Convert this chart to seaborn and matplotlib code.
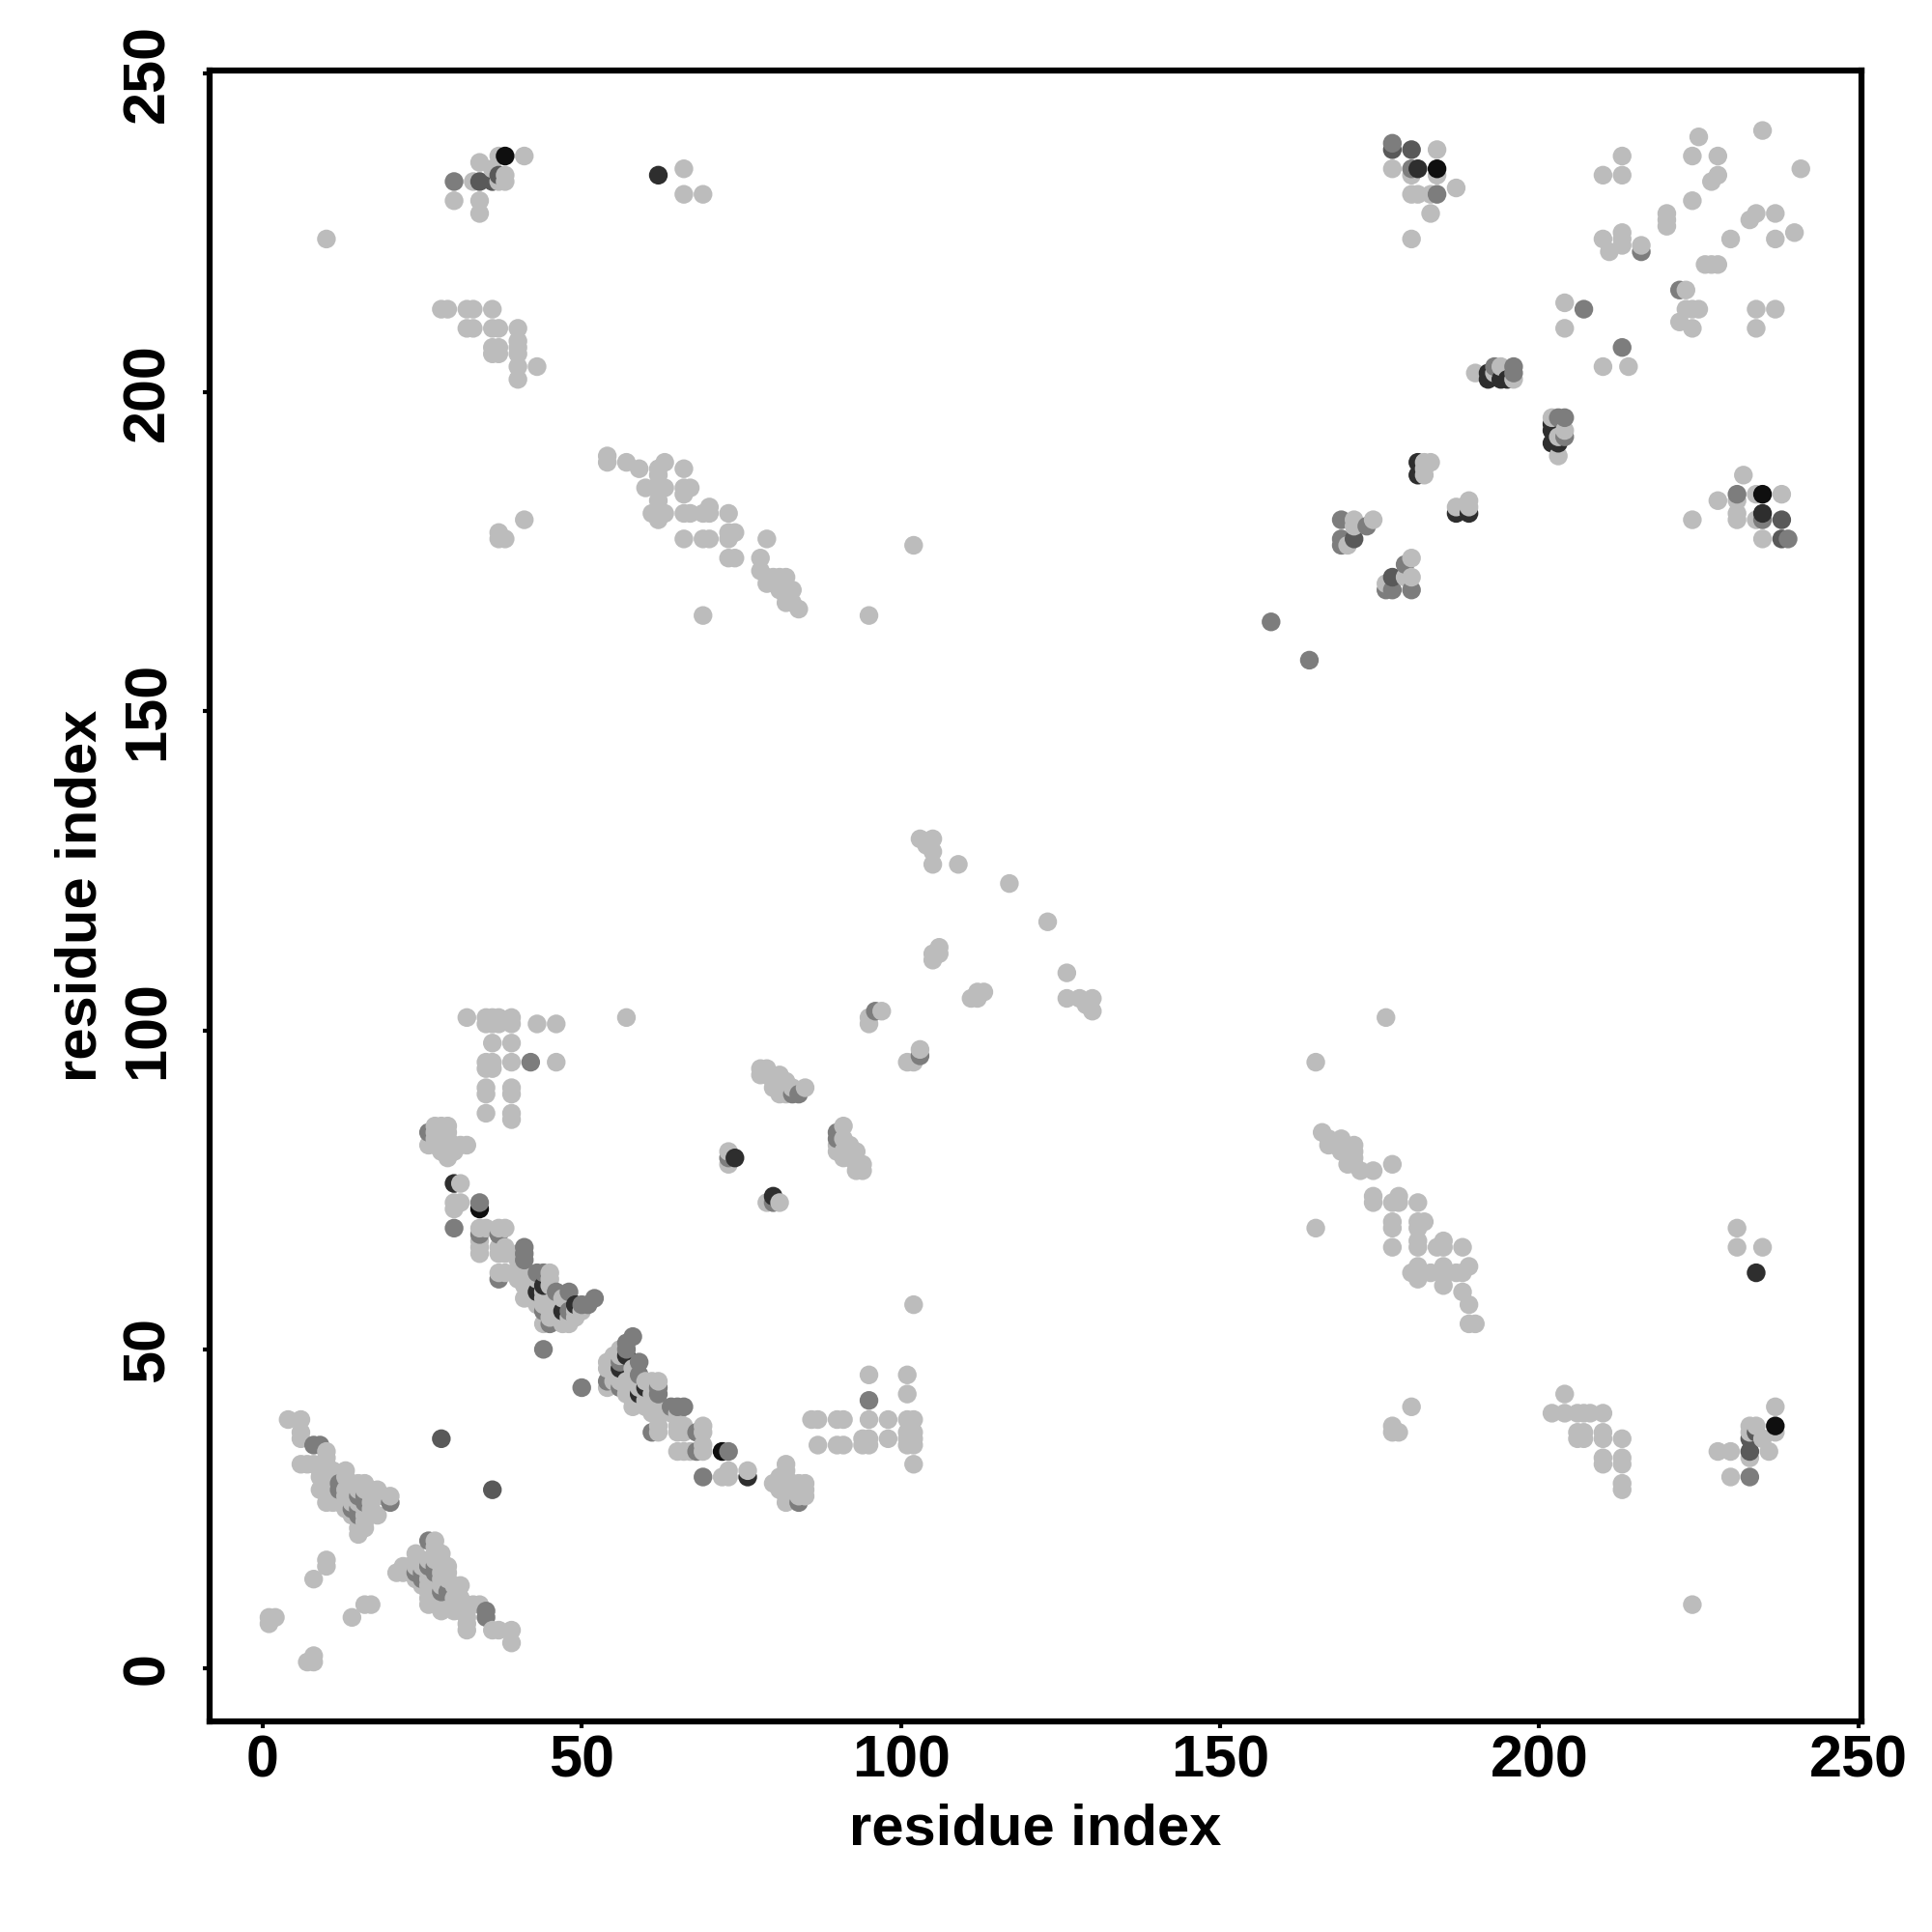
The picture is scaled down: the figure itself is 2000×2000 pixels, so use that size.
import matplotlib
matplotlib.use('Agg')
import matplotlib.pyplot as plt
import pandas as pd
import seaborn as sns

# contact pairs (i < j), grouped by grey level; the map is symmetric
light_pairs = [
    (1, 7), (1, 8), (2, 8), (8, 14), (10, 16), (10, 17),
    (4, 39), (6, 39), (6, 37), (6, 36), (6, 32), (7, 32), (8, 32), (9, 28), (9, 30), (9, 31),
    (10, 34), (10, 33), (10, 32), (10, 31), (10, 30), (10, 28), (10, 26),
    (11, 31), (11, 30), (11, 27), (11, 26), (12, 27), (12, 26),
    (13, 31), (13, 30), (13, 28), (13, 27), (13, 26), (13, 25), (14, 29), (14, 28), (14, 26), (14, 24),
    (15, 29), (15, 28), (15, 26), (15, 22), (15, 21), (16, 29), (16, 28), (16, 25), (16, 24), (16, 23), (16, 22),
    (17, 28), (17, 27), (17, 26), (17, 25), (18, 28), (18, 27), (18, 24), (19, 27), (20, 27),
    (26, 82), (27, 85), (27, 84), (27, 83), (27, 82), (28, 85), (28, 84), (28, 83), (28, 82), (28, 81),
    (29, 85), (29, 84), (29, 83), (29, 82), (29, 81), (29, 80), (30, 82), (30, 81), (31, 82), (32, 82),
    (31, 76), (30, 73), (30, 72), (31, 73), (34, 69), (34, 67), (34, 66), (34, 65), (35, 69),
    (37, 69), (38, 69), (37, 66), (37, 65), (38, 66), (38, 65), (37, 62), (38, 62),
    (40, 65), (40, 64), (40, 62), (40, 61), (41, 62), (41, 60), (41, 58), (42, 61), (42, 60), (42, 58), (43, 61),
    (43, 57), (44, 59), (44, 58), (44, 57), (44, 54), (45, 62), (45, 61), (45, 60), (45, 57), (45, 56), (45, 55),
    (46, 58), (47, 58), (47, 54), (48, 55), (48, 54), (49, 56), (49, 55), (50, 56),
    (32, 102), (35, 102), (36, 102), (37, 102), (35, 101), (36, 101), (37, 101), (36, 98), (39, 102), (39, 101),
    (39, 98), (35, 95), (36, 95), (35, 94), (36, 94), (39, 95), (35, 91), (35, 90), (35, 87), (39, 91), (39, 90),
    (39, 87), (39, 86), (43, 101), (46, 101), (46, 95), (57, 102),
    (28, 213), (29, 213), (32, 213), (33, 213), (36, 213), (32, 210), (33, 210), (36, 210), (37, 210), (40, 210),
    (36, 207), (37, 207), (36, 206), (37, 206), (40, 208), (40, 207), (40, 206), (40, 204), (40, 202), (43, 204),
    (37, 178), (37, 177), (38, 177), (41, 180),
    (30, 230), (33, 233), (34, 236), (34, 230), (34, 228), (36, 235), (37, 237), (37, 233), (38, 234), (38, 233), (41, 237),
    (10, 224), (66, 235), (66, 231), (69, 231),
    (73, 81), (73, 79), (79, 73), (81, 73),
    (78, 94), (78, 93), (79, 94), (79, 93), (80, 92), (80, 91), (81, 93), (81, 91), (81, 90), (82, 92), (82, 90), (83, 91), (85, 91),
    (95, 102), (95, 101), (97, 103),
    (103, 130), (104, 129), (105, 130), (105, 128), (105, 126), (109, 126), (117, 123),
    (105, 112), (105, 111), (106, 113), (106, 112),
    (54, 190), (54, 189), (57, 189), (59, 188), (60, 185), (62, 188), (62, 187), (63, 189), (62, 185), (63, 185),
    (66, 188), (66, 185), (67, 185), (66, 184), (62, 183), (61, 181), (62, 181), (63, 181), (62, 180), (66, 181),
    (67, 181), (69, 181), (70, 182), (70, 181), (73, 181), (66, 177), (69, 177), (70, 177), (73, 178), (74, 178),
    (73, 177), (73, 174), (74, 174), (79, 177), (78, 174), (78, 172), (79, 171), (79, 170), (80, 171), (81, 171),
    (82, 171), (81, 169), (82, 169), (83, 169), (82, 168), (82, 167), (83, 167), (84, 166),
    (69, 165), (95, 165), (102, 176),
    (170, 176), (171, 180), (171, 179), (174, 180), (180, 224), (180, 234), (180, 231), (181, 231), (177, 235), (183, 231),
    (184, 238), (184, 234), (187, 232), (183, 228), (182, 189), (183, 189), (182, 188), (182, 187), (187, 182), (188, 182),
    (189, 183), (189, 182), (190, 203), (193, 203), (194, 204), (196, 202), (203, 190), (203, 193), (204, 194),
    (204, 214), (204, 210), (210, 234), (213, 237), (213, 234), (210, 224), (213, 225), (213, 224), (213, 223), (211, 222),
    (216, 223), (224, 237), (225, 240), (228, 237), (228, 234), (227, 233), (235, 241),
    (224, 230), (220, 228), (220, 227), (220, 226),
]
mid_pairs = [
    (8, 35), (9, 35), (12, 29), (12, 28), (14, 25), (15, 25), (15, 24), (15, 27), (16, 27), (16, 26), (20, 26),
    (26, 84), (30, 69), (34, 73), (34, 68), (37, 68), (37, 61), (41, 66), (41, 65), (41, 64), (43, 62), (44, 62),
    (44, 56), (45, 54), (46, 59), (48, 59), (48, 56), (50, 57), (51, 57), (52, 58), (44, 50),
    (42, 95), (30, 233), (73, 80), (80, 73), (83, 90), (84, 90), (96, 103),
    (169, 180), (169, 177), (169, 176), (173, 179), (158, 164), (177, 239), (180, 235), (184, 231),
    (193, 204), (196, 204), (196, 203), (207, 213), (216, 222),
]
dark_pairs = [
    (28, 36), (34, 233), (36, 233), (37, 234), (171, 177), (177, 238), (180, 238),
]
very_dark_pairs = [
    (30, 76), (43, 59), (44, 60), (47, 56), (49, 57), (62, 234), (74, 80), (80, 74),
    (181, 235), (181, 189), (181, 187),
    (192, 203), (192, 202), (194, 202), (195, 202),
]
black_pairs = [
    (34, 72), (38, 237), (184, 235),
]

level_colors = {
    'light': '#bcbcbc',
    'mid': '#7d7d7d',
    'dark': '#595959',
    'very dark': '#2e2e2e',
    'black': '#0f0f0f',
}
tick_values = [0, 50, 100, 150, 200, 250]

# Собираем таблицу: каждая пара (i, j) и (j, i)
rows = {}
for level, pairs in [('light', light_pairs), ('mid', mid_pairs), ('dark', dark_pairs),
                     ('very dark', very_dark_pairs), ('black', black_pairs)]:
    for i, j in pairs:
        rows[(i, j)] = level
        rows[(j, i)] = level
df = pd.DataFrame([(x, y, lev) for (x, y), lev in rows.items()], columns=['x', 'y', 'level'])
df = df.sort_values(['x', 'y'])

sns.set_theme(style='ticks')
plt.rcParams['font.family'] = ['Liberation Sans', 'DejaVu Sans']

fig = plt.figure(figsize=(20, 20), dpi=100)
ax = fig.add_axes([0.1085, 0.109, 0.855, 0.8545])
sns.scatterplot(data=df, x='x', y='y', hue='level', palette=level_colors, s=195,
                linewidth=0, legend=False, ax=ax)

ax.set_xlim(-8.3, 250.5)
ax.set_ylim(-8.3, 250.4)
ax.set_xticks(tick_values)
ax.set_yticks(tick_values)
ax.tick_params(axis='x', length=5, width=3, color='black', labelcolor='black', labelsize=44, pad=5)
ax.tick_params(axis='y', length=5, width=3, color='black', labelcolor='black', labelsize=44, pad=20)
for lab in ax.get_xticklabels():
    lab.set_fontweight('bold')
for lab in ax.get_yticklabels():
    lab.set_fontweight('bold')
    lab.set_rotation(90)
    lab.set_va('center')
ax.set_xlabel('residue index', fontsize=43, fontweight='bold', labelpad=10, color='black')
ax.set_ylabel('residue index', fontsize=43, fontweight='bold', labelpad=10, color='black')
for s in ax.spines.values():
    s.set_visible(True)
    s.set_linewidth(4.5)
    s.set_color('black')

fig.savefig('out.png', dpi=100, facecolor='white')
